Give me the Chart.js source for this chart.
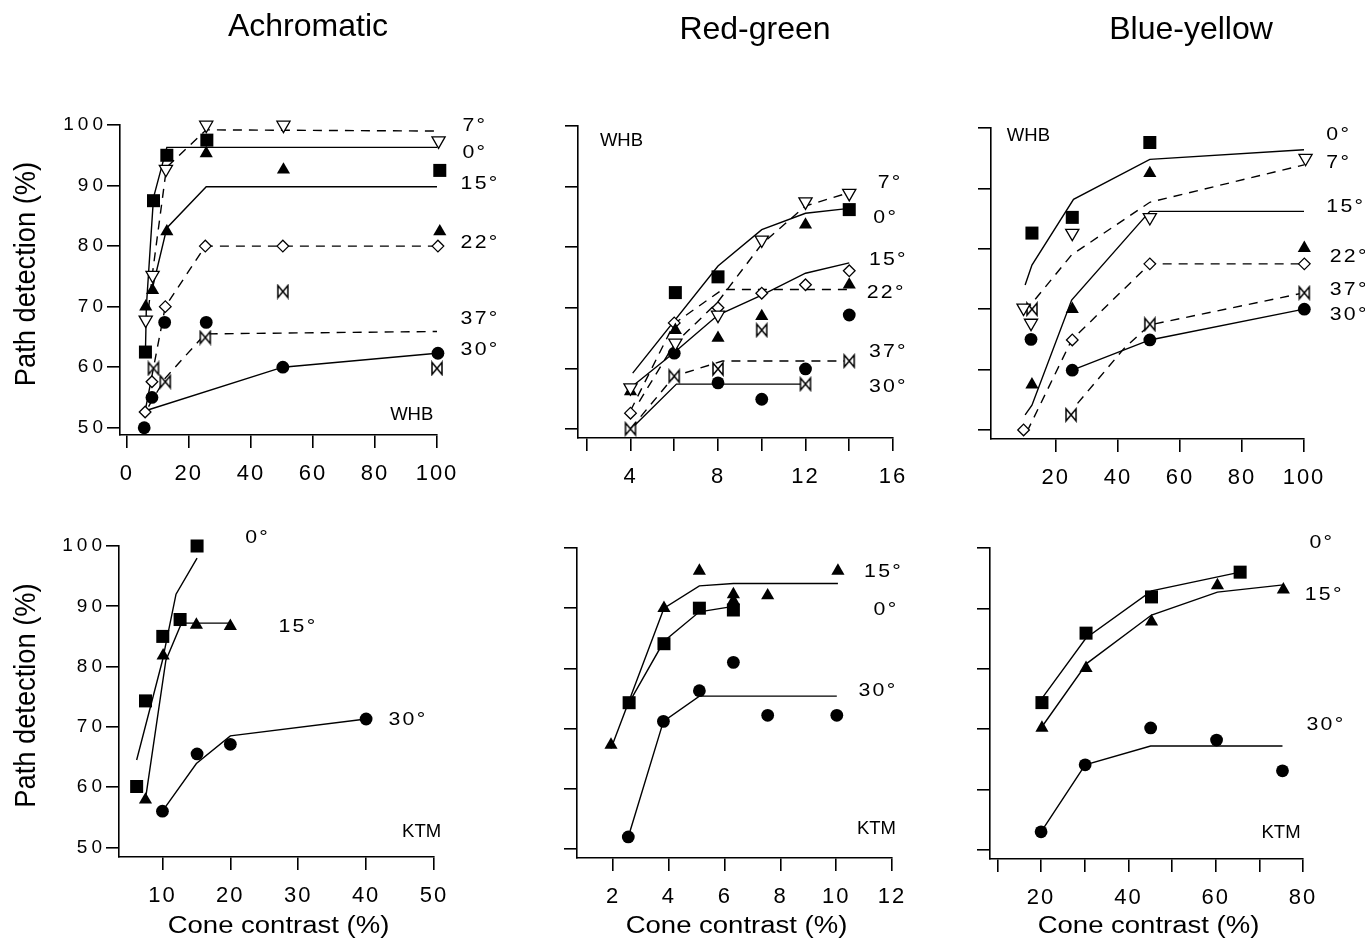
<!DOCTYPE html>
<html>
<head>
<meta charset="utf-8">
<title>Path detection vs cone contrast</title>
<script src="https://cdn.jsdelivr.net/npm/chart.js@4.4.1/dist/chart.umd.min.js"></script>
<style>
  html, body { margin: 0; padding: 0; background: #fff; }
  #sheet { position: relative; width: 1365px; height: 940px; overflow: hidden; }
  #sheet canvas { position: absolute; left: 0; top: 0; }
</style>
</head>
<body>
<div id="sheet">
  <canvas id="achWhb" width="1365" height="940"></canvas>
  <canvas id="rgWhb" width="1365" height="940"></canvas>
  <canvas id="byWhb" width="1365" height="940"></canvas>
  <canvas id="achKtm" width="1365" height="940"></canvas>
  <canvas id="rgKtm" width="1365" height="940"></canvas>
  <canvas id="byKtm" width="1365" height="940"></canvas>
</div>
<script>
// ---- text ----
const columnTitles = ['Achromatic', 'Red-green', 'Blue-yellow'];
const yTitleText = 'Path detection (%)';
const xTitleText = 'Cone contrast (%)';

// ---- ticks ----
const pctTicks = [50, 60, 70, 80, 90, 100];
const achWhbTicks = [0, 20, 40, 60, 80, 100];
const rgWhbTicks = [2, 4, 6, 8, 10, 12, 14, 16];
const rgWhbTickLabels = [4, 8, 12, 16];
const byWhbTicks = [20, 40, 60, 80, 100];
const achKtmTicks = [10, 20, 30, 40, 50];
const rgKtmTicks = [2, 4, 6, 8, 10, 12];
const byKtmTicks = [10, 20, 30, 40, 50, 60, 70, 80];
const byKtmTickLabels = [20, 40, 60, 80];

// ---- Achromatic, WHB: [contrast %, detection %] ----
const achWhb0 = [[6, 62.5], [8.6, 87.5], [12.9, 95], [25.8, 97.5], [100.9, 92.5]];
const achWhb0Fit = [[6, 62.5], [6.3, 70], [8.6, 88], [12.9, 96.3], [100, 96.3]];
const achWhb7 = [[6.1, 67.8], [8.3, 75.2], [12.6, 92.7], [25.6, 100], [50.5, 100], [100.5, 97.4]];
const achWhb7Fit = [[6.4, 67], [8.4, 76], [12.8, 93], [25.6, 99.2], [100, 99]];
const achWhb15 = [[6.1, 70], [8.3, 72.7], [12.9, 82.4], [25.6, 95.3], [50.5, 92.6], [100.9, 82.4]];
const achWhb15Fit = [[8, 72.5], [12.9, 83], [25.6, 89.8], [100, 89.8]];
const achWhb22 = [[5.9, 52.6], [8.1, 57.6], [12.4, 70], [25.3, 80], [50.3, 80], [100.3, 80]];
const achWhb22Fit = [[6, 53], [12.4, 70], [25.3, 80], [100, 80]];
const achWhb37 = [[8.6, 59.8], [12.4, 57.6], [25.3, 64.9], [50.3, 72.5], [100, 59.8]];
const achWhb37Fit = [[7, 53.5], [12.4, 58.2], [25.3, 65.5], [100, 65.9]];
const achWhb30 = [[5.6, 50], [8.1, 55], [12.2, 67.4], [25.6, 67.4], [50.3, 60], [100.3, 62.3]];
const achWhb30Fit = [[6, 52.8], [50.3, 60], [100, 62.3]];

// ---- Red-green, WHB ----
const rgWhb0 = [[6.05, 72.5], [8, 75.1], [14, 86.2]];
const rgWhb0Fit = [[4.1, 59.2], [8, 76.9], [10, 82.9], [12, 85.6], [14, 86.4]];
const rgWhb7 = [[4, 56.8], [6.05, 64.2], [8, 68.8], [10, 81.2], [12, 87.5], [14, 88.9]];
const rgWhb7Fit = [[4.4, 54.5], [6, 64], [8, 71], [10, 80.5], [12, 86.8], [14, 89]];
const rgWhb15 = [[4, 56.2], [6.05, 66.3], [8, 65], [10, 68.6], [12, 83.7], [14, 73.8]];
const rgWhb15Fit = [[4, 56.8], [6, 62.6], [8, 68.8], [10, 72.1], [12, 75.7], [14, 77.4]];
const rgWhb22 = [[4, 52.6], [6, 67.5], [8, 70], [10, 72.4], [12, 73.8], [14, 76.1]];
const rgWhb22Fit = [[4, 53], [6, 67.4], [8.2, 73], [14, 73]];
const rgWhb37 = [[4, 50], [6, 58.7], [8, 59.9], [10, 66.3], [12, 57.4], [14, 61.2]];
const rgWhb37Fit = [[4, 50], [6, 58.7], [8.2, 61.2], [14, 61.2]];
const rgWhb30 = [[6, 62.5], [8, 57.6], [10, 54.9], [12, 59.9], [14, 68.8]];
const rgWhb30Fit = [[4, 49.9], [6.1, 57.4], [12, 57.4]];

// ---- Blue-yellow, WHB ----
const byWhb0 = [[12.3, 82.6], [25.3, 85.2], [50.3, 97.6]];
const byWhb0Fit = [[10.1, 74], [12.3, 77.3], [25.7, 88.2], [50.3, 94.8], [100, 96.4]];
const byWhb7 = [[9.6, 70.2], [12, 67.7], [25.3, 82.6], [50.3, 85.2], [100.5, 95]];
const byWhb7Fit = [[10.1, 69.6], [25.1, 79], [50.3, 87.7], [100, 93.9]];
const byWhb15 = [[12.3, 57.5], [25.3, 70], [50.3, 92.5], [100.1, 80.1]];
const byWhb15Fit = [[10.1, 52.5], [12.3, 54.1], [25.1, 71.5], [50.3, 86.2], [100, 86.2]];
const byWhb22 = [[9.6, 50], [25.3, 64.9], [50.3, 77.5], [100.1, 77.5]];
const byWhb22Fit = [[10.7, 49.7], [25.1, 64.9], [50.3, 77.5], [100, 77.5]];
const byWhb37 = [[12.3, 70], [24.9, 52.5], [50.3, 67.5], [100.1, 72.7]];
const byWhb37Fit = [[27, 54.4], [42, 63.5], [50.3, 67.4], [100, 72.7]];
const byWhb30 = [[12, 65], [25.3, 59.9], [50.3, 64.9], [100.1, 70]];
const byWhb30Fit = [[25.3, 59.9], [50.3, 64.9], [100, 70]];

// ---- Achromatic, KTM ----
const achKtm0 = [[6.2, 60.1], [7.5, 74.3], [10.05, 85], [12.6, 87.8], [15.1, 100]];
const achKtm0Fit = [[6.2, 64.5], [10, 81], [12, 92], [15.1, 98]];
const achKtm15 = [[7.5, 57.9], [10.1, 81.8], [15, 86.9], [20, 86.7]];
const achKtm15Fit = [[7.5, 58], [10.5, 81], [12.8, 87.2], [20.2, 87.2]];
const achKtm30 = [[10, 56], [15.1, 65.5], [20, 67.1], [40, 71.3]];
const achKtm30Fit = [[10, 56], [15, 63.9], [20, 68.5], [40, 71.3]];

// ---- Red-green, KTM ----
const rgKtm0 = [[2.57, 74.3], [3.82, 84.1], [5.09, 90], [6.31, 89.7]];
const rgKtm0Fit = [[2.57, 74.3], [3.82, 84.5], [5.09, 89.4], [6.31, 90.3]];
const rgKtm15 = [[1.92, 67.3], [3.82, 90], [5.09, 96.2], [6.31, 92.3], [6.31, 91.2], [7.54, 92.1], [10.06, 96.2]];
const rgKtm15Fit = [[1.92, 66.7], [2.6, 75], [3.82, 90], [5.09, 93.7], [6.31, 94.1], [10.06, 94.1]];
const rgKtm30 = [[2.54, 52], [3.8, 71.2], [5.09, 76.3], [6.31, 81], [7.54, 72.2], [10.02, 72.2]];
const rgKtm30Fit = [[2.54, 52], [3.8, 71.2], [5.09, 75.4], [10.02, 75.4]];

// ---- Blue-yellow, KTM ----
const byKtm0 = [[20.2, 74.4], [30.3, 85.9], [45.3, 91.9], [65.6, 96]];
const byKtm0Fit = [[20.2, 75.1], [30.3, 85.1], [45.3, 92.9], [65.6, 96]];
const byKtm15 = [[20.2, 70.2], [30.3, 80.1], [45.3, 87.8], [60.4, 93.8], [75.5, 93.1]];
const byKtm15Fit = [[20.2, 70.4], [30.5, 80.9], [45.3, 88.9], [60.4, 92.7], [75.5, 93.9]];
const byKtm30 = [[20, 53], [30.1, 64.1], [45.1, 70.2], [60.2, 68.2], [75.3, 63.1]];
const byKtm30Fit = [[20, 53], [30.1, 64.1], [45.1, 67.2], [75.3, 67.2]];

const PAGE_W = 1365, PAGE_H = 940;
const FONT = "'Liberation Sans', Arial, Helvetica, sans-serif";

// open bowtie marker used for the 37 deg paths
function makeBowtie(w, h) {
  const c = document.createElement('canvas');
  c.width = w + 4;
  c.height = h + 4;
  const g = c.getContext('2d');
  g.translate(2, 2);
  g.beginPath();
  g.moveTo(0, 0);
  g.lineTo(w, h);
  g.lineTo(w, 0);
  g.lineTo(0, h);
  g.closePath();
  g.fillStyle = '#fff';
  g.fill();
  g.lineWidth = 1.5;
  g.strokeStyle = '#000';
  g.stroke();
  return c;
}

const markerStyles = {
  0: { pointStyle: 'rect', pointRadius: 9.2, pointBackgroundColor: '#000', pointBorderWidth: 0 },
  7: { pointStyle: 'triangle', pointRotation: 180, pointRadius: 7.6, pointBackgroundColor: '#fff', pointBorderWidth: 1.3 },
  15: { pointStyle: 'triangle', pointRadius: 7.6, pointBackgroundColor: '#000', pointBorderWidth: 0 },
  22: { pointStyle: 'rectRot', pointRadius: 5.8, pointBackgroundColor: '#fff', pointBorderWidth: 1.3 },
  37: { pointStyle: makeBowtie(10, 12), pointRadius: 6, pointBackgroundColor: '#fff', pointBorderWidth: 1.3 },
  30: { pointStyle: 'circle', pointRadius: 6.4, pointBackgroundColor: '#000', pointBorderWidth: 0 }
};
// fitted curves: solid for 0/15/30, dashed for 7/22/37
const fitDash = { 0: [], 7: [9, 7], 15: [], 22: [9, 7], 37: [9, 7], 30: [] };

const toXY = pts => pts.map(([x, y]) => ({ x, y }));

function drawStretched(ctx, text, x, y, sx, font, align) {
  ctx.save();
  ctx.translate(x, y);
  ctx.scale(sx, 1);
  ctx.font = font;
  ctx.textAlign = align;
  ctx.fillText(text, 0, 0);
  ctx.restore();
}

// headers, axis titles, angle tags and observer initials
const figureText = {
  id: 'figureText',
  beforeDraw(chart) {
    chart.ctx.letterSpacing = '4px';   // y tick labels
  },
  afterDatasetsDraw(chart) {
    chart.ctx.letterSpacing = '2px';   // x tick labels (drawn on z 1)
  },
  afterDraw(chart, args, o) {
    const { ctx, chartArea: a, scales: { x, y } } = chart;
    ctx.save();
    ctx.letterSpacing = '0px';
    ctx.fillStyle = '#000';
    ctx.textBaseline = 'alphabetic';
    if (o.header) {
      ctx.font = `32px ${FONT}`;
      ctx.textAlign = 'center';
      ctx.fillText(o.header.text, o.header.x, o.header.y);
    }
    if (o.yTitle) {
      ctx.save();
      ctx.translate(o.yTitle.x, (a.top + a.bottom) / 2 - 6);
      ctx.rotate(-Math.PI / 2);
      ctx.scale(0.94, 1);
      ctx.font = `29px ${FONT}`;
      ctx.textAlign = 'center';
      ctx.fillText(yTitleText, 0, 0);
      ctx.restore();
    }
    if (o.xTitle) {
      drawStretched(ctx, xTitleText, (a.left + a.right) / 2 + 2, 933, 1.17, `23.5px ${FONT}`, 'center');
    }
    ctx.textBaseline = 'middle';
    ctx.letterSpacing = '2px';
    for (const [angle, tx, ty] of o.tags) {
      drawStretched(ctx, `${angle}°`, x.getPixelForValue(tx), y.getPixelForValue(ty), 1.12, `19px ${FONT}`, 'left');
    }
    ctx.letterSpacing = '0px';
    if (o.observer) {
      const [name, ox, oy] = o.observer;
      ctx.font = `18.5px ${FONT}`;
      ctx.textAlign = 'left';
      ctx.fillText(name, x.getPixelForValue(ox), y.getPixelForValue(oy));
    }
    ctx.restore();
  }
};

function axisLines() {
  return {
    grid: { display: true, drawOnChartArea: false, drawTicks: true, tickLength: 13, tickWidth: 1.6, tickColor: '#000', color: '#000', lineWidth: 1.6 },
    border: { display: true, color: '#000', width: 1.6 }
  };
}

function buildPanel(p) {
  const datasets = [];
  for (const [angle, pts, fit] of p.series) {
    if (fit) {
      datasets.push({
        data: toXY(fit), showLine: true, fill: false, tension: 0,
        borderColor: '#000', borderWidth: 1.4, borderDash: fitDash[angle],
        pointRadius: 0, order: 1, clip: false
      });
    }
    datasets.push(Object.assign({
      data: toXY(pts), showLine: false, pointBorderColor: '#000',
      order: 0, clip: false
    }, markerStyles[angle]));
  }
  const a = p.area;
  // every canvas covers the whole sheet; the axis boxes are sized so the
  // plot area lands on a.left/a.top/a.right/a.bottom
  return new Chart(document.getElementById(p.id), {
    type: 'scatter',
    data: { datasets },
    options: {
      responsive: false,
      animation: false,
      events: [],
      layout: { padding: { left: 0, top: a.top, right: PAGE_W - a.right, bottom: 0 } },
      plugins: {
        legend: { display: false },
        tooltip: { enabled: false },
        figureText: p.text
      },
      scales: {
        x: Object.assign({
          type: 'linear', position: 'bottom', min: p.xMin, max: p.xMax,
          afterFit: s => { s.height = PAGE_H - a.bottom; },
          afterBuildTicks: s => { s.ticks = p.xTicks.map(v => ({ value: v })); },
          ticks: {
            z: 1, autoSkip: false, maxRotation: 0, minRotation: 0, padding: 13, color: '#000',
            font: { family: FONT, size: 22 },
            callback: v => (p.xLabels.includes(v) ? String(v) : '')
          }
        }, axisLines()),
        y: Object.assign({
          type: 'linear', position: 'left', min: p.yMin, max: 100,
          afterFit: s => { s.width = a.left; },
          afterBuildTicks: s => { s.ticks = pctTicks.map(v => ({ value: v })); },
          ticks: {
            autoSkip: false, padding: 0, color: '#000',
            font: { family: FONT, size: 19 },
            callback: v => (p.yLabels ? String(v) : '')
          }
        }, axisLines())
      }
    },
    plugins: [figureText]
  });
}

buildPanel({
  id: 'achWhb', area: { left: 120, top: 125, right: 437, bottom: 435 },
  xMin: -2.2, xMax: 100, yMin: 48.8, xTicks: achWhbTicks, xLabels: achWhbTicks, yLabels: true,
  series: [[7, achWhb7, achWhb7Fit], [0, achWhb0, achWhb0Fit], [15, achWhb15, achWhb15Fit],
           [22, achWhb22, achWhb22Fit], [37, achWhb37, achWhb37Fit], [30, achWhb30, achWhb30Fit]],
  text: {
    header: { text: columnTitles[0], x: 308, y: 36 }, yTitle: { x: 35 }, xTitle: false,
    tags: [[7, 108.2, 99.8], [0, 108.2, 95.4], [15, 107.6, 90.3], [22, 107.6, 80.5], [37, 107.6, 68], [30, 107.6, 62.8]],
    observer: ['WHB', 84.9, 52.1]
  }
});

buildPanel({
  id: 'rgWhb', area: { left: 578, top: 126, right: 893, bottom: 438 },
  xMin: 1.6, xMax: 16, yMin: 48.5, xTicks: rgWhbTicks, xLabels: rgWhbTickLabels, yLabels: false,
  series: [[7, rgWhb7, rgWhb7Fit], [0, rgWhb0, rgWhb0Fit], [15, rgWhb15, rgWhb15Fit],
           [22, rgWhb22, rgWhb22Fit], [37, rgWhb37, rgWhb37Fit], [30, rgWhb30, rgWhb30Fit]],
  text: {
    header: { text: columnTitles[1], x: 755, y: 39 }, yTitle: null, xTitle: false,
    tags: [[7, 15.3, 90.6], [0, 15.1, 84.8], [15, 14.9, 77.9], [22, 14.8, 72.5], [37, 14.9, 62.8], [30, 14.9, 56.9]],
    observer: ['WHB', 2.6, 97.5]
  }
});

buildPanel({
  id: 'byWhb', area: { left: 991, top: 128, right: 1304, bottom: 439 },
  xMin: -0.9, xMax: 100, yMin: 48.5, xTicks: byWhbTicks, xLabels: byWhbTicks, yLabels: false,
  series: [[7, byWhb7, byWhb7Fit], [0, byWhb0, byWhb0Fit], [15, byWhb15, byWhb15Fit],
           [22, byWhb22, byWhb22Fit], [37, byWhb37, byWhb37Fit], [30, byWhb30, byWhb30Fit]],
  text: {
    header: { text: columnTitles[2], x: 1191, y: 39 }, yTitle: null, xTitle: false,
    tags: [[0, 107.2, 98.9], [7, 107.2, 94.2], [15, 107.2, 86.9], [22, 108.3, 78.7], [37, 108.3, 73.2], [30, 108.3, 69.1]],
    observer: ['WHB', 4.2, 98.7]
  }
});

buildPanel({
  id: 'achKtm', area: { left: 119, top: 546, right: 434, bottom: 857 },
  xMin: 3.6, xMax: 50, yMin: 48.4, xTicks: achKtmTicks, xLabels: achKtmTicks, yLabels: true,
  series: [[0, achKtm0, achKtm0Fit], [15, achKtm15, achKtm15Fit], [30, achKtm30, achKtm30Fit]],
  text: {
    header: null, yTitle: { x: 35 }, xTitle: true,
    tags: [[0, 22.2, 101.3], [15, 27.1, 86.6], [30, 43.3, 71.1]],
    observer: ['KTM', 45.3, 52.6]
  }
});

buildPanel({
  id: 'rgKtm', area: { left: 577, top: 548, right: 892, bottom: 858 },
  xMin: 0.7, xMax: 12, yMin: 48.5, xTicks: rgKtmTicks, xLabels: rgKtmTicks, yLabels: false,
  series: [[15, rgKtm15, rgKtm15Fit], [0, rgKtm0, rgKtm0Fit], [30, rgKtm30, rgKtm30Fit]],
  text: {
    header: null, yTitle: null, xTitle: true,
    tags: [[15, 11, 96.1], [0, 11.34, 89.7], [30, 10.8, 76.2]],
    observer: ['KTM', 10.74, 53.3]
  }
});

buildPanel({
  id: 'byKtm', area: { left: 990, top: 548, right: 1303, bottom: 859 },
  xMin: 8.3, xMax: 80, yMin: 48.5, xTicks: byKtmTicks, xLabels: byKtmTickLabels, yLabels: false,
  series: [[0, byKtm0, byKtm0Fit], [15, byKtm15, byKtm15Fit], [30, byKtm30, byKtm30Fit]],
  text: {
    header: null, yTitle: null, xTitle: true,
    tags: [[0, 81.5, 100.8], [15, 80.4, 92.3], [30, 80.8, 70.7]],
    observer: ['KTM', 70.5, 52.9]
  }
});
</script>
</body>
</html>
